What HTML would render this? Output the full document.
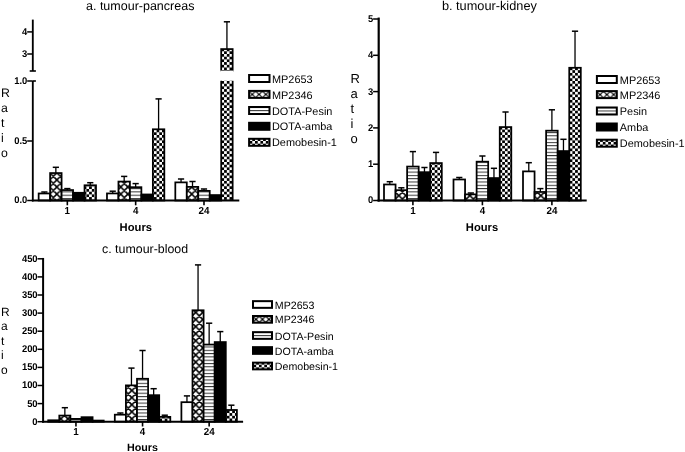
<!DOCTYPE html>
<html><head><meta charset="utf-8"><title>Tumour ratios</title>
<style>html,body{margin:0;padding:0;background:#fff}svg{display:block;text-rendering:geometricPrecision;filter:blur(0.35px)}</style></head>
<body>
<svg width="685" height="452" viewBox="0 0 685 452" font-family="'Liberation Sans', sans-serif" fill="#000">
<defs><pattern id="p0" width="7.1" height="7.1" patternUnits="userSpaceOnUse" x="49.75" y="179.90"><rect width="7.1" height="7.1" fill="#fff"/><path d="M-1,-1 L8.1,8.1 M-1,8.1 L8.1,-1 M-8.1,-1 L1,8.1 M6.1,-1 L15.2,8.1 M-1,1 L1,-1 M6.1,8.1 L8.1,6.1" stroke="#000" stroke-width="1.55" fill="none"/></pattern><pattern id="p1" width="3.3" height="3.3" patternUnits="userSpaceOnUse" x="0.00" y="0.00"><rect width="3.3" height="3.3" fill="#fff"/><rect y="0" width="3.3" height="1.0" fill="#333"/></pattern><pattern id="p2" width="5.4" height="5.4" patternUnits="userSpaceOnUse" x="0.00" y="0.00"><rect width="5.4" height="5.4" fill="#fff"/><rect width="2.7" height="2.7" fill="#000"/><rect x="2.7" y="2.7" width="2.7" height="2.7" fill="#000"/></pattern><pattern id="p3" width="6.8" height="6.8" patternUnits="userSpaceOnUse" x="252.25" y="94.40"><rect width="6.8" height="6.8" fill="#fff"/><path d="M-1,-1 L7.8,7.8 M-1,7.8 L7.8,-1 M-7.8,-1 L1,7.8 M5.8,-1 L14.6,7.8 M-1,1 L1,-1 M5.8,7.8 L7.8,5.8" stroke="#000" stroke-width="1.2" fill="none"/></pattern><pattern id="p4" width="3.3" height="3.3" patternUnits="userSpaceOnUse" x="0.00" y="110.00"><rect width="3.3" height="3.3" fill="#fff"/><rect y="0" width="3.3" height="1.0" fill="#333"/></pattern><pattern id="p5" width="5.4" height="5.4" patternUnits="userSpaceOnUse" x="249.60" y="140.95"><rect width="5.4" height="5.4" fill="#fff"/><rect width="2.7" height="2.7" fill="#000"/><rect x="2.7" y="2.7" width="2.7" height="2.7" fill="#000"/></pattern><pattern id="p6" width="7.1" height="7.1" patternUnits="userSpaceOnUse" x="398.85" y="195.60"><rect width="7.1" height="7.1" fill="#fff"/><path d="M-1,-1 L8.1,8.1 M-1,8.1 L8.1,-1 M-8.1,-1 L1,8.1 M6.1,-1 L15.2,8.1 M-1,1 L1,-1 M6.1,8.1 L8.1,6.1" stroke="#000" stroke-width="1.55" fill="none"/></pattern><pattern id="p7" width="3.3" height="3.3" patternUnits="userSpaceOnUse" x="0.00" y="0.00"><rect width="3.3" height="3.3" fill="#fff"/><rect y="0" width="3.3" height="1.0" fill="#333"/></pattern><pattern id="p8" width="5.4" height="5.4" patternUnits="userSpaceOnUse" x="0.00" y="0.00"><rect width="5.4" height="5.4" fill="#fff"/><rect width="2.7" height="2.7" fill="#000"/><rect x="2.7" y="2.7" width="2.7" height="2.7" fill="#000"/></pattern><pattern id="p9" width="6.8" height="6.8" patternUnits="userSpaceOnUse" x="600.05" y="94.60"><rect width="6.8" height="6.8" fill="#fff"/><path d="M-1,-1 L7.8,7.8 M-1,7.8 L7.8,-1 M-7.8,-1 L1,7.8 M5.8,-1 L14.6,7.8 M-1,1 L1,-1 M5.8,7.8 L7.8,5.8" stroke="#000" stroke-width="1.2" fill="none"/></pattern><pattern id="p10" width="3.3" height="3.3" patternUnits="userSpaceOnUse" x="0.00" y="110.50"><rect width="3.3" height="3.3" fill="#fff"/><rect y="0" width="3.3" height="1.0" fill="#333"/></pattern><pattern id="p11" width="5.4" height="5.4" patternUnits="userSpaceOnUse" x="597.40" y="141.85"><rect width="5.4" height="5.4" fill="#fff"/><rect width="2.7" height="2.7" fill="#000"/><rect x="2.7" y="2.7" width="2.7" height="2.7" fill="#000"/></pattern><pattern id="p12" width="7.1" height="7.1" patternUnits="userSpaceOnUse" x="195.75" y="312.40"><rect width="7.1" height="7.1" fill="#fff"/><path d="M-1,-1 L8.1,8.1 M-1,8.1 L8.1,-1 M-8.1,-1 L1,8.1 M6.1,-1 L15.2,8.1 M-1,1 L1,-1 M6.1,8.1 L8.1,6.1" stroke="#000" stroke-width="1.55" fill="none"/></pattern><pattern id="p13" width="3.3" height="3.3" patternUnits="userSpaceOnUse" x="0.00" y="0.00"><rect width="3.3" height="3.3" fill="#fff"/><rect y="0" width="3.3" height="1.0" fill="#333"/></pattern><pattern id="p14" width="5.4" height="5.4" patternUnits="userSpaceOnUse" x="0.00" y="0.00"><rect width="5.4" height="5.4" fill="#fff"/><rect width="2.7" height="2.7" fill="#000"/><rect x="2.7" y="2.7" width="2.7" height="2.7" fill="#000"/></pattern><pattern id="p15" width="6.5" height="6.5" patternUnits="userSpaceOnUse" x="255.97" y="319.35"><rect width="6.5" height="6.5" fill="#fff"/><path d="M-1,-1 L7.5,7.5 M-1,7.5 L7.5,-1 M-7.5,-1 L1,7.5 M5.5,-1 L14.0,7.5 M-1,1 L1,-1 M5.5,7.5 L7.5,5.5" stroke="#000" stroke-width="1.2" fill="none"/></pattern><pattern id="p16" width="3.3" height="3.3" patternUnits="userSpaceOnUse" x="0.00" y="335.00"><rect width="3.3" height="3.3" fill="#fff"/><rect y="0" width="3.3" height="1.0" fill="#333"/></pattern><pattern id="p17" width="5.4" height="5.4" patternUnits="userSpaceOnUse" x="253.50" y="364.65"><rect width="5.4" height="5.4" fill="#fff"/><rect width="2.7" height="2.7" fill="#000"/><rect x="2.7" y="2.7" width="2.7" height="2.7" fill="#000"/></pattern></defs>
<rect width="685" height="452" fill="#fff"/>
<text transform="translate(86.00 10.30) scale(0.3125 0.3125)" font-size="40" text-anchor="start">a. tumour-pancreas</text>
<text transform="translate(1.00 97.00) scale(0.3075 0.3075)" font-size="40" text-anchor="start">R</text>
<text transform="translate(1.00 111.90) scale(0.3075 0.3075)" font-size="40" text-anchor="start">a</text>
<text transform="translate(1.00 126.80) scale(0.3075 0.3075)" font-size="40" text-anchor="start">t</text>
<text transform="translate(1.00 141.70) scale(0.3075 0.3075)" font-size="40" text-anchor="start">i</text>
<text transform="translate(1.00 156.60) scale(0.3075 0.3075)" font-size="40" text-anchor="start">o</text>
<rect x="38.65" y="193.47" width="11.47" height="7.03" fill="#fff" stroke="#000" stroke-width="1.75"/>
<line x1="44.38" y1="193.47" x2="44.38" y2="192.00" stroke="#000" stroke-width="1.3" />
<line x1="41.28" y1="192.00" x2="47.48" y2="192.00" stroke="#000" stroke-width="1.5" />
<rect x="50.12" y="173.07" width="11.47" height="27.43" fill="url(#p0)" stroke="#000" stroke-width="1.75"/>
<line x1="55.86" y1="173.07" x2="55.86" y2="167.30" stroke="#000" stroke-width="1.3" />
<line x1="52.76" y1="167.30" x2="58.96" y2="167.30" stroke="#000" stroke-width="1.5" />
<rect x="61.59" y="190.07" width="11.47" height="10.43" fill="url(#p1)" stroke="#000" stroke-width="1.75"/>
<line x1="67.33" y1="190.07" x2="67.33" y2="188.60" stroke="#000" stroke-width="1.3" />
<line x1="64.23" y1="188.60" x2="70.42" y2="188.60" stroke="#000" stroke-width="1.5" />
<rect x="84.53" y="185.28" width="11.47" height="15.22" fill="url(#p2)" stroke="#000" stroke-width="1.75"/>
<line x1="90.27" y1="185.28" x2="90.27" y2="182.70" stroke="#000" stroke-width="1.3" />
<line x1="87.17" y1="182.70" x2="93.36" y2="182.70" stroke="#000" stroke-width="1.5" />
<rect x="73.06" y="192.78" width="11.47" height="7.72" fill="#000" stroke="#000" stroke-width="1.75"/>
<rect x="106.98" y="193.43" width="11.47" height="7.07" fill="#fff" stroke="#000" stroke-width="1.75"/>
<line x1="112.71" y1="193.43" x2="112.71" y2="191.20" stroke="#000" stroke-width="1.3" />
<line x1="109.61" y1="191.20" x2="115.81" y2="191.20" stroke="#000" stroke-width="1.5" />
<rect x="118.45" y="181.57" width="11.47" height="18.93" fill="url(#p0)" stroke="#000" stroke-width="1.75"/>
<line x1="124.18" y1="181.57" x2="124.18" y2="176.40" stroke="#000" stroke-width="1.3" />
<line x1="121.08" y1="176.40" x2="127.28" y2="176.40" stroke="#000" stroke-width="1.5" />
<rect x="129.92" y="187.18" width="11.47" height="13.32" fill="url(#p1)" stroke="#000" stroke-width="1.75"/>
<line x1="135.65" y1="187.18" x2="135.65" y2="183.60" stroke="#000" stroke-width="1.3" />
<line x1="132.55" y1="183.60" x2="138.75" y2="183.60" stroke="#000" stroke-width="1.5" />
<rect x="152.86" y="129.28" width="11.47" height="71.22" fill="url(#p2)" stroke="#000" stroke-width="1.75"/>
<line x1="158.59" y1="129.28" x2="158.59" y2="98.90" stroke="#000" stroke-width="1.3" />
<line x1="155.49" y1="98.90" x2="161.69" y2="98.90" stroke="#000" stroke-width="1.5" />
<rect x="141.39" y="194.47" width="11.47" height="6.03" fill="#000" stroke="#000" stroke-width="1.75"/>
<rect x="175.31" y="182.38" width="11.47" height="18.12" fill="#fff" stroke="#000" stroke-width="1.75"/>
<line x1="181.05" y1="182.38" x2="181.05" y2="179.00" stroke="#000" stroke-width="1.3" />
<line x1="177.95" y1="179.00" x2="184.15" y2="179.00" stroke="#000" stroke-width="1.5" />
<rect x="186.78" y="186.88" width="11.47" height="13.62" fill="url(#p0)" stroke="#000" stroke-width="1.75"/>
<line x1="192.51" y1="186.88" x2="192.51" y2="181.50" stroke="#000" stroke-width="1.3" />
<line x1="189.41" y1="181.50" x2="195.61" y2="181.50" stroke="#000" stroke-width="1.5" />
<rect x="198.25" y="190.88" width="11.47" height="9.62" fill="url(#p1)" stroke="#000" stroke-width="1.75"/>
<line x1="203.99" y1="190.88" x2="203.99" y2="189.00" stroke="#000" stroke-width="1.3" />
<line x1="200.89" y1="189.00" x2="207.09" y2="189.00" stroke="#000" stroke-width="1.5" />
<rect x="209.72" y="195.07" width="11.47" height="5.43" fill="#000" stroke="#000" stroke-width="1.75"/>
<rect x="221.19" y="80.8" width="11.47" height="119.70" fill="url(#p2)"/>
<line x1="221.19" y1="80.80" x2="221.19" y2="200.50" stroke="#000" stroke-width="1.75" />
<line x1="232.66" y1="80.80" x2="232.66" y2="200.50" stroke="#000" stroke-width="1.75" />
<rect x="221.19" y="49.08" width="11.47" height="21.92" fill="url(#p2)" stroke="#000" stroke-width="1.75"/>
<line x1="226.93" y1="49.08" x2="226.93" y2="21.80" stroke="#000" stroke-width="1.3" />
<line x1="223.83" y1="21.80" x2="230.03" y2="21.80" stroke="#000" stroke-width="1.5" />
<rect x="220.19" y="70.6" width="13.47" height="2" fill="#fff"/>
<line x1="32.80" y1="81.00" x2="32.80" y2="201.43" stroke="#000" stroke-width="1.85" />
<line x1="32.80" y1="19.60" x2="32.80" y2="71.00" stroke="#000" stroke-width="1.85" />
<line x1="31.87" y1="200.50" x2="239.30" y2="200.50" stroke="#000" stroke-width="1.85" />
<line x1="29.70" y1="71.00" x2="35.90" y2="71.00" stroke="#000" stroke-width="1.6" />
<line x1="27.20" y1="200.50" x2="32.80" y2="200.50" stroke="#000" stroke-width="1.5" />
<text transform="translate(27.30 203.45) scale(0.2350 0.2444)" font-size="40" text-anchor="end" font-weight="bold">0.0</text>
<line x1="27.20" y1="141.00" x2="32.80" y2="141.00" stroke="#000" stroke-width="1.5" />
<text transform="translate(27.30 143.95) scale(0.2350 0.2444)" font-size="40" text-anchor="end" font-weight="bold">0.5</text>
<line x1="27.20" y1="81.00" x2="32.80" y2="81.00" stroke="#000" stroke-width="1.5" />
<text transform="translate(27.30 83.95) scale(0.2350 0.2444)" font-size="40" text-anchor="end" font-weight="bold">1.0</text>
<line x1="27.20" y1="54.00" x2="32.80" y2="54.00" stroke="#000" stroke-width="1.5" />
<text transform="translate(27.30 56.95) scale(0.2350 0.2444)" font-size="40" text-anchor="end" font-weight="bold">3</text>
<line x1="27.20" y1="31.90" x2="32.80" y2="31.90" stroke="#000" stroke-width="1.5" />
<text transform="translate(27.30 34.85) scale(0.2350 0.2444)" font-size="40" text-anchor="end" font-weight="bold">4</text>
<line x1="32.80" y1="81.00" x2="35.90" y2="81.00" stroke="#000" stroke-width="1.6" />
<line x1="67.33" y1="200.50" x2="67.33" y2="205.30" stroke="#000" stroke-width="1.6" />
<text transform="translate(67.33 213.80) scale(0.2450 0.2548)" font-size="40" text-anchor="middle" font-weight="bold">1</text>
<line x1="135.66" y1="200.50" x2="135.66" y2="205.30" stroke="#000" stroke-width="1.6" />
<text transform="translate(135.66 213.80) scale(0.2450 0.2548)" font-size="40" text-anchor="middle" font-weight="bold">4</text>
<line x1="203.99" y1="200.50" x2="203.99" y2="205.30" stroke="#000" stroke-width="1.6" />
<text transform="translate(203.99 213.80) scale(0.2450 0.2548)" font-size="40" text-anchor="middle" font-weight="bold">24</text>
<text transform="translate(135.80 230.80) scale(0.2800 0.2800)" font-size="40" text-anchor="middle" font-weight="bold">Hours</text>
<rect x="249.10" y="75.00" width="20.40" height="7.00" fill="#fff" stroke="#000" stroke-width="2.0"/>
<text transform="translate(272.00 82.60) scale(0.2725 0.2725)" font-size="40" text-anchor="start">MP2653</text>
<rect x="249.10" y="90.90" width="20.40" height="7.00" fill="url(#p3)" stroke="#000" stroke-width="2.0"/>
<text transform="translate(272.00 98.50) scale(0.2725 0.2725)" font-size="40" text-anchor="start">MP2346</text>
<rect x="249.10" y="107.00" width="20.40" height="7.00" fill="url(#p4)" stroke="#000" stroke-width="2.0"/>
<text transform="translate(272.00 114.60) scale(0.2725 0.2725)" font-size="40" text-anchor="start">DOTA-Pesin</text>
<rect x="249.10" y="122.80" width="20.40" height="7.00" fill="#000" stroke="#000" stroke-width="2.0"/>
<text transform="translate(272.00 130.40) scale(0.2725 0.2725)" font-size="40" text-anchor="start">DOTA-amba</text>
<rect x="249.10" y="138.80" width="20.40" height="7.00" fill="url(#p5)" stroke="#000" stroke-width="2.0"/>
<text transform="translate(272.00 146.40) scale(0.2725 0.2725)" font-size="40" text-anchor="start">Demobesin-1</text>
<text transform="translate(441.90 9.90) scale(0.3187 0.3187)" font-size="40" text-anchor="start">b. tumour-kidney</text>
<text transform="translate(350.60 82.70) scale(0.3250 0.3250)" font-size="40" text-anchor="start">R</text>
<text transform="translate(350.60 97.85) scale(0.3250 0.3250)" font-size="40" text-anchor="start">a</text>
<text transform="translate(350.60 113.00) scale(0.3250 0.3250)" font-size="40" text-anchor="start">t</text>
<text transform="translate(350.60 128.15) scale(0.3250 0.3250)" font-size="40" text-anchor="start">i</text>
<text transform="translate(350.60 143.30) scale(0.3250 0.3250)" font-size="40" text-anchor="start">o</text>
<rect x="384.00" y="184.47" width="11.56" height="16.03" fill="#fff" stroke="#000" stroke-width="1.75"/>
<line x1="389.78" y1="184.47" x2="389.78" y2="181.70" stroke="#000" stroke-width="1.3" />
<line x1="386.68" y1="181.70" x2="392.88" y2="181.70" stroke="#000" stroke-width="1.5" />
<rect x="395.56" y="190.18" width="11.56" height="10.32" fill="url(#p6)" stroke="#000" stroke-width="1.75"/>
<line x1="401.34" y1="190.18" x2="401.34" y2="187.80" stroke="#000" stroke-width="1.3" />
<line x1="398.24" y1="187.80" x2="404.44" y2="187.80" stroke="#000" stroke-width="1.5" />
<rect x="407.12" y="166.57" width="11.56" height="33.93" fill="url(#p7)" stroke="#000" stroke-width="1.75"/>
<line x1="412.90" y1="166.57" x2="412.90" y2="151.60" stroke="#000" stroke-width="1.3" />
<line x1="409.80" y1="151.60" x2="416.00" y2="151.60" stroke="#000" stroke-width="1.5" />
<rect x="430.24" y="163.07" width="11.56" height="37.43" fill="url(#p8)" stroke="#000" stroke-width="1.75"/>
<line x1="436.02" y1="163.07" x2="436.02" y2="152.40" stroke="#000" stroke-width="1.3" />
<line x1="432.92" y1="152.40" x2="439.12" y2="152.40" stroke="#000" stroke-width="1.5" />
<rect x="418.68" y="172.18" width="11.56" height="28.32" fill="#000" stroke="#000" stroke-width="1.75"/>
<line x1="424.46" y1="172.18" x2="424.46" y2="167.50" stroke="#000" stroke-width="1.3" />
<line x1="421.36" y1="167.50" x2="427.56" y2="167.50" stroke="#000" stroke-width="1.5" />
<rect x="453.50" y="179.47" width="11.56" height="21.03" fill="#fff" stroke="#000" stroke-width="1.75"/>
<line x1="459.28" y1="179.47" x2="459.28" y2="177.50" stroke="#000" stroke-width="1.3" />
<line x1="456.18" y1="177.50" x2="462.38" y2="177.50" stroke="#000" stroke-width="1.5" />
<rect x="465.06" y="194.38" width="11.56" height="6.12" fill="url(#p6)" stroke="#000" stroke-width="1.75"/>
<line x1="470.84" y1="194.38" x2="470.84" y2="193.00" stroke="#000" stroke-width="1.3" />
<line x1="467.74" y1="193.00" x2="473.94" y2="193.00" stroke="#000" stroke-width="1.5" />
<rect x="476.62" y="161.68" width="11.56" height="38.82" fill="url(#p7)" stroke="#000" stroke-width="1.75"/>
<line x1="482.40" y1="161.68" x2="482.40" y2="156.00" stroke="#000" stroke-width="1.3" />
<line x1="479.30" y1="156.00" x2="485.50" y2="156.00" stroke="#000" stroke-width="1.5" />
<rect x="499.74" y="127.08" width="11.56" height="73.42" fill="url(#p8)" stroke="#000" stroke-width="1.75"/>
<line x1="505.52" y1="127.08" x2="505.52" y2="112.00" stroke="#000" stroke-width="1.3" />
<line x1="502.42" y1="112.00" x2="508.62" y2="112.00" stroke="#000" stroke-width="1.5" />
<rect x="488.18" y="178.07" width="11.56" height="22.43" fill="#000" stroke="#000" stroke-width="1.75"/>
<line x1="493.96" y1="178.07" x2="493.96" y2="168.30" stroke="#000" stroke-width="1.3" />
<line x1="490.86" y1="168.30" x2="497.06" y2="168.30" stroke="#000" stroke-width="1.5" />
<rect x="523.00" y="171.38" width="11.56" height="29.12" fill="#fff" stroke="#000" stroke-width="1.75"/>
<line x1="528.78" y1="171.38" x2="528.78" y2="162.70" stroke="#000" stroke-width="1.3" />
<line x1="525.68" y1="162.70" x2="531.88" y2="162.70" stroke="#000" stroke-width="1.5" />
<rect x="534.56" y="191.97" width="11.56" height="8.53" fill="url(#p6)" stroke="#000" stroke-width="1.75"/>
<line x1="540.34" y1="191.97" x2="540.34" y2="188.60" stroke="#000" stroke-width="1.3" />
<line x1="537.24" y1="188.60" x2="543.44" y2="188.60" stroke="#000" stroke-width="1.5" />
<rect x="546.12" y="130.68" width="11.56" height="69.82" fill="url(#p7)" stroke="#000" stroke-width="1.75"/>
<line x1="551.90" y1="130.68" x2="551.90" y2="109.80" stroke="#000" stroke-width="1.3" />
<line x1="548.80" y1="109.80" x2="555.00" y2="109.80" stroke="#000" stroke-width="1.5" />
<rect x="569.24" y="67.78" width="11.56" height="132.72" fill="url(#p8)" stroke="#000" stroke-width="1.75"/>
<line x1="575.02" y1="67.78" x2="575.02" y2="31.20" stroke="#000" stroke-width="1.3" />
<line x1="571.92" y1="31.20" x2="578.12" y2="31.20" stroke="#000" stroke-width="1.5" />
<rect x="557.68" y="151.07" width="11.56" height="49.43" fill="#000" stroke="#000" stroke-width="1.75"/>
<line x1="563.46" y1="151.07" x2="563.46" y2="139.30" stroke="#000" stroke-width="1.3" />
<line x1="560.36" y1="139.30" x2="566.56" y2="139.30" stroke="#000" stroke-width="1.5" />
<line x1="378.70" y1="17.55" x2="378.70" y2="201.60" stroke="#000" stroke-width="2.2" />
<line x1="377.60" y1="200.50" x2="586.70" y2="200.50" stroke="#000" stroke-width="2.2" />
<line x1="373.10" y1="200.50" x2="378.70" y2="200.50" stroke="#000" stroke-width="1.5" />
<text transform="translate(373.20 203.45) scale(0.2350 0.2444)" font-size="40" text-anchor="end" font-weight="bold">0</text>
<line x1="373.10" y1="164.20" x2="378.70" y2="164.20" stroke="#000" stroke-width="1.5" />
<text transform="translate(373.20 167.15) scale(0.2350 0.2444)" font-size="40" text-anchor="end" font-weight="bold">1</text>
<line x1="373.10" y1="127.90" x2="378.70" y2="127.90" stroke="#000" stroke-width="1.5" />
<text transform="translate(373.20 130.85) scale(0.2350 0.2444)" font-size="40" text-anchor="end" font-weight="bold">2</text>
<line x1="373.10" y1="91.60" x2="378.70" y2="91.60" stroke="#000" stroke-width="1.5" />
<text transform="translate(373.20 94.55) scale(0.2350 0.2444)" font-size="40" text-anchor="end" font-weight="bold">3</text>
<line x1="373.10" y1="55.30" x2="378.70" y2="55.30" stroke="#000" stroke-width="1.5" />
<text transform="translate(373.20 58.25) scale(0.2350 0.2444)" font-size="40" text-anchor="end" font-weight="bold">4</text>
<line x1="373.10" y1="19.00" x2="378.70" y2="19.00" stroke="#000" stroke-width="1.5" />
<text transform="translate(373.20 21.95) scale(0.2350 0.2444)" font-size="40" text-anchor="end" font-weight="bold">5</text>
<line x1="412.90" y1="200.50" x2="412.90" y2="205.30" stroke="#000" stroke-width="1.6" />
<text transform="translate(412.90 213.80) scale(0.2450 0.2548)" font-size="40" text-anchor="middle" font-weight="bold">1</text>
<line x1="482.40" y1="200.50" x2="482.40" y2="205.30" stroke="#000" stroke-width="1.6" />
<text transform="translate(482.40 213.80) scale(0.2450 0.2548)" font-size="40" text-anchor="middle" font-weight="bold">4</text>
<line x1="551.90" y1="200.50" x2="551.90" y2="205.30" stroke="#000" stroke-width="1.6" />
<text transform="translate(551.90 213.80) scale(0.2450 0.2548)" font-size="40" text-anchor="middle" font-weight="bold">24</text>
<text transform="translate(482.00 230.80) scale(0.2800 0.2800)" font-size="40" text-anchor="middle" font-weight="bold">Hours</text>
<rect x="596.90" y="76.00" width="19.90" height="7.00" fill="#fff" stroke="#000" stroke-width="2.0"/>
<text transform="translate(619.80 83.60) scale(0.2725 0.2725)" font-size="40" text-anchor="start">MP2653</text>
<rect x="596.90" y="91.10" width="19.90" height="7.00" fill="url(#p9)" stroke="#000" stroke-width="2.0"/>
<text transform="translate(619.80 98.70) scale(0.2725 0.2725)" font-size="40" text-anchor="start">MP2346</text>
<rect x="596.90" y="107.50" width="19.90" height="7.00" fill="url(#p10)" stroke="#000" stroke-width="2.0"/>
<text transform="translate(619.80 115.10) scale(0.2725 0.2725)" font-size="40" text-anchor="start">Pesin</text>
<rect x="596.90" y="123.50" width="19.90" height="7.00" fill="#000" stroke="#000" stroke-width="2.0"/>
<text transform="translate(619.80 131.10) scale(0.2725 0.2725)" font-size="40" text-anchor="start">Amba</text>
<rect x="596.90" y="139.70" width="19.90" height="7.00" fill="url(#p11)" stroke="#000" stroke-width="2.0"/>
<text transform="translate(619.80 147.30) scale(0.2725 0.2725)" font-size="40" text-anchor="start">Demobesin-1</text>
<text transform="translate(102.00 252.60) scale(0.3100 0.3100)" font-size="40" text-anchor="start">c. tumour-blood</text>
<text transform="translate(1.00 315.80) scale(0.3000 0.3000)" font-size="40" text-anchor="start">R</text>
<text transform="translate(1.00 330.35) scale(0.3000 0.3000)" font-size="40" text-anchor="start">a</text>
<text transform="translate(1.00 344.90) scale(0.3000 0.3000)" font-size="40" text-anchor="start">t</text>
<text transform="translate(1.00 359.45) scale(0.3000 0.3000)" font-size="40" text-anchor="start">i</text>
<text transform="translate(1.00 374.00) scale(0.3000 0.3000)" font-size="40" text-anchor="start">o</text>
<rect x="48.20" y="420.27" width="11.10" height="1.43" fill="#fff" stroke="#000" stroke-width="1.75"/>
<rect x="59.30" y="415.57" width="11.10" height="6.12" fill="url(#p12)" stroke="#000" stroke-width="1.75"/>
<line x1="64.85" y1="415.57" x2="64.85" y2="407.70" stroke="#000" stroke-width="1.3" />
<line x1="61.75" y1="407.70" x2="67.95" y2="407.70" stroke="#000" stroke-width="1.5" />
<rect x="70.40" y="418.88" width="11.10" height="2.82" fill="url(#p13)" stroke="#000" stroke-width="1.75"/>
<rect x="92.60" y="420.57" width="11.10" height="1.12" fill="url(#p14)" stroke="#000" stroke-width="1.75"/>
<rect x="81.50" y="417.18" width="11.10" height="4.52" fill="#000" stroke="#000" stroke-width="1.75"/>
<rect x="114.80" y="414.68" width="11.10" height="7.02" fill="#fff" stroke="#000" stroke-width="1.75"/>
<line x1="120.35" y1="414.68" x2="120.35" y2="413.00" stroke="#000" stroke-width="1.3" />
<line x1="117.25" y1="413.00" x2="123.45" y2="413.00" stroke="#000" stroke-width="1.5" />
<rect x="125.90" y="385.38" width="11.10" height="36.32" fill="url(#p12)" stroke="#000" stroke-width="1.75"/>
<line x1="131.45" y1="385.38" x2="131.45" y2="368.10" stroke="#000" stroke-width="1.3" />
<line x1="128.35" y1="368.10" x2="134.55" y2="368.10" stroke="#000" stroke-width="1.5" />
<rect x="137.00" y="378.77" width="11.10" height="42.93" fill="url(#p13)" stroke="#000" stroke-width="1.75"/>
<line x1="142.55" y1="378.77" x2="142.55" y2="350.50" stroke="#000" stroke-width="1.3" />
<line x1="139.45" y1="350.50" x2="145.65" y2="350.50" stroke="#000" stroke-width="1.5" />
<rect x="159.20" y="416.88" width="11.10" height="4.82" fill="url(#p14)" stroke="#000" stroke-width="1.75"/>
<line x1="164.75" y1="416.88" x2="164.75" y2="415.20" stroke="#000" stroke-width="1.3" />
<line x1="161.65" y1="415.20" x2="167.85" y2="415.20" stroke="#000" stroke-width="1.5" />
<rect x="148.10" y="395.18" width="11.10" height="26.52" fill="#000" stroke="#000" stroke-width="1.75"/>
<line x1="153.65" y1="395.18" x2="153.65" y2="388.70" stroke="#000" stroke-width="1.3" />
<line x1="150.55" y1="388.70" x2="156.75" y2="388.70" stroke="#000" stroke-width="1.5" />
<rect x="181.40" y="402.18" width="11.10" height="19.52" fill="#fff" stroke="#000" stroke-width="1.75"/>
<line x1="186.95" y1="402.18" x2="186.95" y2="395.90" stroke="#000" stroke-width="1.3" />
<line x1="183.85" y1="395.90" x2="190.05" y2="395.90" stroke="#000" stroke-width="1.5" />
<rect x="192.50" y="310.27" width="11.10" height="111.43" fill="url(#p12)" stroke="#000" stroke-width="1.75"/>
<line x1="198.05" y1="310.27" x2="198.05" y2="264.90" stroke="#000" stroke-width="1.3" />
<line x1="194.95" y1="264.90" x2="201.15" y2="264.90" stroke="#000" stroke-width="1.5" />
<rect x="203.60" y="344.57" width="11.10" height="77.12" fill="url(#p13)" stroke="#000" stroke-width="1.75"/>
<line x1="209.15" y1="344.57" x2="209.15" y2="323.20" stroke="#000" stroke-width="1.3" />
<line x1="206.05" y1="323.20" x2="212.25" y2="323.20" stroke="#000" stroke-width="1.5" />
<rect x="225.80" y="409.98" width="11.10" height="11.72" fill="url(#p14)" stroke="#000" stroke-width="1.75"/>
<line x1="231.35" y1="409.98" x2="231.35" y2="405.20" stroke="#000" stroke-width="1.3" />
<line x1="228.25" y1="405.20" x2="234.45" y2="405.20" stroke="#000" stroke-width="1.5" />
<rect x="214.70" y="342.07" width="11.10" height="79.62" fill="#000" stroke="#000" stroke-width="1.75"/>
<line x1="220.25" y1="342.07" x2="220.25" y2="331.60" stroke="#000" stroke-width="1.3" />
<line x1="217.15" y1="331.60" x2="223.35" y2="331.60" stroke="#000" stroke-width="1.5" />
<line x1="43.10" y1="257.95" x2="43.10" y2="422.70" stroke="#000" stroke-width="2.0" />
<line x1="42.10" y1="421.70" x2="243.10" y2="421.70" stroke="#000" stroke-width="2.0" />
<line x1="37.50" y1="421.70" x2="43.10" y2="421.70" stroke="#000" stroke-width="1.5" />
<text transform="translate(37.60 424.65) scale(0.2350 0.2444)" font-size="40" text-anchor="end" font-weight="bold">0</text>
<line x1="37.50" y1="403.60" x2="43.10" y2="403.60" stroke="#000" stroke-width="1.5" />
<text transform="translate(37.60 406.55) scale(0.2350 0.2444)" font-size="40" text-anchor="end" font-weight="bold">50</text>
<line x1="37.50" y1="385.50" x2="43.10" y2="385.50" stroke="#000" stroke-width="1.5" />
<text transform="translate(37.60 388.45) scale(0.2350 0.2444)" font-size="40" text-anchor="end" font-weight="bold">100</text>
<line x1="37.50" y1="367.40" x2="43.10" y2="367.40" stroke="#000" stroke-width="1.5" />
<text transform="translate(37.60 370.35) scale(0.2350 0.2444)" font-size="40" text-anchor="end" font-weight="bold">150</text>
<line x1="37.50" y1="349.30" x2="43.10" y2="349.30" stroke="#000" stroke-width="1.5" />
<text transform="translate(37.60 352.25) scale(0.2350 0.2444)" font-size="40" text-anchor="end" font-weight="bold">200</text>
<line x1="37.50" y1="331.20" x2="43.10" y2="331.20" stroke="#000" stroke-width="1.5" />
<text transform="translate(37.60 334.15) scale(0.2350 0.2444)" font-size="40" text-anchor="end" font-weight="bold">250</text>
<line x1="37.50" y1="313.10" x2="43.10" y2="313.10" stroke="#000" stroke-width="1.5" />
<text transform="translate(37.60 316.05) scale(0.2350 0.2444)" font-size="40" text-anchor="end" font-weight="bold">300</text>
<line x1="37.50" y1="295.00" x2="43.10" y2="295.00" stroke="#000" stroke-width="1.5" />
<text transform="translate(37.60 297.95) scale(0.2350 0.2444)" font-size="40" text-anchor="end" font-weight="bold">350</text>
<line x1="37.50" y1="276.90" x2="43.10" y2="276.90" stroke="#000" stroke-width="1.5" />
<text transform="translate(37.60 279.85) scale(0.2350 0.2444)" font-size="40" text-anchor="end" font-weight="bold">400</text>
<line x1="37.50" y1="258.80" x2="43.10" y2="258.80" stroke="#000" stroke-width="1.5" />
<text transform="translate(37.60 261.75) scale(0.2350 0.2444)" font-size="40" text-anchor="end" font-weight="bold">450</text>
<line x1="75.95" y1="421.70" x2="75.95" y2="426.50" stroke="#000" stroke-width="1.6" />
<text transform="translate(75.95 435.00) scale(0.2450 0.2548)" font-size="40" text-anchor="middle" font-weight="bold">1</text>
<line x1="142.55" y1="421.70" x2="142.55" y2="426.50" stroke="#000" stroke-width="1.6" />
<text transform="translate(142.55 435.00) scale(0.2450 0.2548)" font-size="40" text-anchor="middle" font-weight="bold">4</text>
<line x1="209.15" y1="421.70" x2="209.15" y2="426.50" stroke="#000" stroke-width="1.6" />
<text transform="translate(209.15 435.00) scale(0.2450 0.2548)" font-size="40" text-anchor="middle" font-weight="bold">24</text>
<text transform="translate(142.40 451.00) scale(0.2675 0.2675)" font-size="40" text-anchor="middle" font-weight="bold">Hours</text>
<rect x="253.00" y="301.15" width="19.00" height="6.70" fill="#fff" stroke="#000" stroke-width="2.0"/>
<text transform="translate(274.80 308.60) scale(0.2658 0.2658)" font-size="40" text-anchor="start">MP2653</text>
<rect x="253.00" y="316.00" width="19.00" height="6.70" fill="url(#p15)" stroke="#000" stroke-width="2.0"/>
<text transform="translate(274.80 323.45) scale(0.2658 0.2658)" font-size="40" text-anchor="start">MP2346</text>
<rect x="253.00" y="332.15" width="19.00" height="6.70" fill="url(#p16)" stroke="#000" stroke-width="2.0"/>
<text transform="translate(274.80 339.60) scale(0.2658 0.2658)" font-size="40" text-anchor="start">DOTA-Pesin</text>
<rect x="253.00" y="347.15" width="19.00" height="6.70" fill="#000" stroke="#000" stroke-width="2.0"/>
<text transform="translate(274.80 354.60) scale(0.2658 0.2658)" font-size="40" text-anchor="start">DOTA-amba</text>
<rect x="253.00" y="362.65" width="19.00" height="6.70" fill="url(#p17)" stroke="#000" stroke-width="2.0"/>
<text transform="translate(274.80 370.10) scale(0.2658 0.2658)" font-size="40" text-anchor="start">Demobesin-1</text>
</svg>
</body></html>
